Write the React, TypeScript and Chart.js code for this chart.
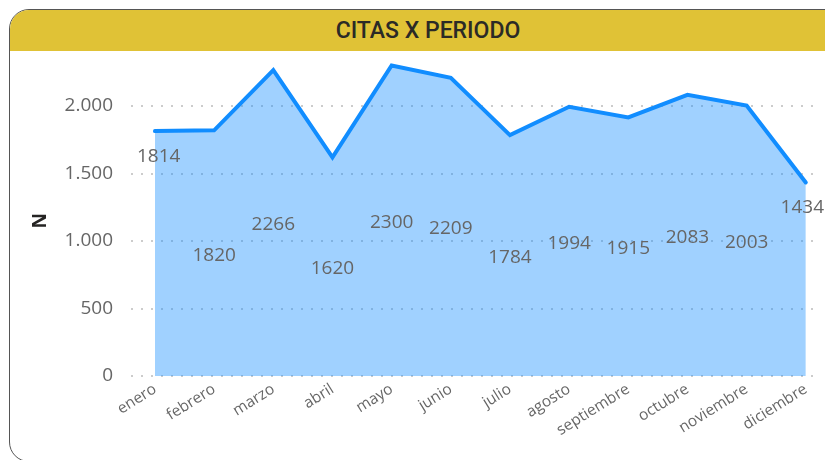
import React, { useEffect, useRef } from "react";
import { Chart, registerables } from "chart.js";

Chart.register(...registerables);

const title = "CITAS X PERIODO";
const yAxisTitle = "N";
const categories = [
  "enero", "febrero", "marzo", "abril", "mayo", "junio",
  "julio", "agosto", "septiembre", "octubre", "noviembre", "diciembre",
];
const citas = [1814, 1820, 2266, 1620, 2300, 2209, 1784, 1994, 1915, 2083, 2003, 1434];
const yTicks = [0, 500, 1000, 1500, 2000];

const FONT = "'Open Sans', 'Noto Sans', sans-serif";

const fmt = (v: number) => String(v).replace(/\B(?=(\d{3})+(?!\d))/g, ".");

const labelsPlugin = {
  id: "pointLabels",
  afterDatasetsDraw(chart: any) {
    const { ctx, chartArea } = chart;
    const meta = chart.getDatasetMeta(0);
    const yScale = chart.scales.y;
    const last = citas.length - 1;
    ctx.save();
    ctx.font = `19px ${FONT}`;
    ctx.fillStyle = "#666666";
    ctx.textAlign = "center";
    ctx.textBaseline = "middle";
    meta.data.forEach((pt: any, i: number) => {
      const v = citas[i];
      const txt = String(v);
      const w = ctx.measureText(txt).width;
      let x = pt.x;
      let y: number;
      if (i === 0 || i === last) {
        y = pt.y + 25;
      } else {
        y = yScale.getPixelForValue(v / 2) + 2;
      }
      x = Math.max(x, chartArea.left + w / 2 + 6);
      x = Math.min(x, chart.width - w / 2 - 1);
      ctx.fillText(txt, x, y);
    });
    ctx.restore();
  },
};

export default function App() {
  const ref = useRef<HTMLCanvasElement | null>(null);

  useEffect(() => {
    if (!ref.current) return;
    const chart = new Chart(ref.current, {
      type: "line",
      data: {
        datasets: [
          {
            data: citas.map((v, i) => ({ x: i, y: v })),
            borderColor: "#118DFF",
            backgroundColor: "rgba(17,141,255,0.4)",
            borderWidth: 4,
            pointRadius: 0,
            tension: 0,
            fill: "origin",
            borderCapStyle: "round",
            borderJoinStyle: "miter",
            clip: false as any,
          },
        ],
      },
      options: {
        animation: false,
        responsive: false,
        devicePixelRatio: 1,
        layout: { padding: { left: 25, top: 65.5, right: 5, bottom: 0 } },
        plugins: {
          legend: { display: false },
          tooltip: { enabled: false },
          title: { display: false },
        },
        scales: {
          x: {
            type: "linear",
            min: -0.405,
            max: 11.24,
            afterBuildTicks: (s: any) => {
              s.ticks = categories.map((_, i) => ({ value: i }));
            },
            afterFit: (s: any) => {
              s.height = 84;
            },
            ticks: {
              autoSkip: false,
              maxRotation: 32,
              minRotation: 32,
              padding: -4,
              color: "#666666",
              font: { size: 15.5, family: FONT },
              callback: (v: any) => categories[v as number] ?? "",
            },
            grid: { display: false },
            border: { display: false },
          },
          y: {
            min: 0,
            max: Math.max(...citas),
            afterBuildTicks: (s: any) => {
              s.ticks = yTicks.map((v) => ({ value: v }));
            },
            afterFit: (s: any) => {
              s.width = 106;
            },
            ticks: {
              padding: 18,
              color: "#666666",
              font: { size: 19, family: FONT },
              callback: (v: any) => fmt(v as number),
            },
            grid: {
              color: "#cccccc",
              lineWidth: 2,
              drawTicks: false,
            },
            border: { display: false, dash: [2, 8] },
            title: {
              display: true,
              text: yAxisTitle,
              color: "#252423",
              font: { size: 19, weight: "bold", family: FONT },
              padding: { top: 4, bottom: 0 },
            },
          },
        },
      },
      plugins: [labelsPlugin],
    } as any);
    return () => chart.destroy();
  }, []);

  return (
    <div
      style={{
        position: "fixed",
        left: 0,
        top: 0,
        width: 825,
        height: 460,
        overflow: "hidden",
        background: "#ffffff",
      }}
    >
      <div
        style={{
          position: "absolute",
          left: 9,
          top: 9,
          width: 838,
          height: 453,
          boxSizing: "border-box",
          border: "1.5px solid #555555",
          borderRadius: 20,
          overflow: "hidden",
          background: "#ffffff",
        }}
      >
        <div
          style={{
            height: 41,
            background: "#E0C236",
            display: "flex",
            alignItems: "center",
            justifyContent: "center",
            fontFamily: "'Roboto', sans-serif",
            fontWeight: 500,
            fontSize: 23,
            color: "#2b2a26",
            letterSpacing: 0,
          }}
        >
          {title}
        </div>
      </div>
      <canvas
        ref={ref}
        width={825}
        height={460}
        style={{ position: "absolute", left: 0, top: 0, width: 825, height: 460 }}
      />
    </div>
  );
}
